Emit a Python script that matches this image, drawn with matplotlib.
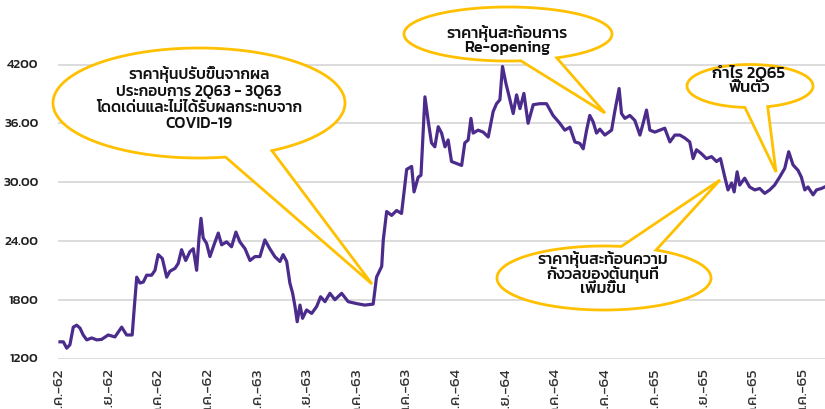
import matplotlib
matplotlib.use("Agg")
import matplotlib.pyplot as plt
from matplotlib.path import Path
from matplotlib.patches import PathPatch
from matplotlib.transforms import Affine2D
import numpy as np

plt.rcParams['font.family'] = ['Kanit', 'DejaVu Sans']

# ---- data (decimal year, price in THB) ----
years = [
    2019.005, 2019.022, 2019.039, 2019.055, 2019.072, 2019.089, 2019.106, 2019.122,
    2019.140, 2019.165, 2019.190, 2019.215, 2019.248, 2019.282, 2019.316, 2019.341,
    2019.369, 2019.380, 2019.392, 2019.408, 2019.425, 2019.442, 2019.467, 2019.484,
    2019.500, 2019.521, 2019.543, 2019.559, 2019.585, 2019.601, 2019.618, 2019.639,
    2019.660, 2019.677, 2019.694, 2019.706, 2019.716, 2019.727, 2019.744, 2019.761,
    2019.778, 2019.803, 2019.820, 2019.845, 2019.870, 2019.892, 2019.912, 2019.938,
    2019.963, 2019.988, 2020.013, 2020.038, 2020.063, 2020.088, 2020.114, 2020.130,
    2020.148, 2020.164, 2020.178, 2020.190, 2020.201, 2020.215, 2020.228, 2020.248,
    2020.274, 2020.299, 2020.319, 2020.341, 2020.366, 2020.391, 2020.425, 2020.458,
    2020.501, 2020.542, 2020.584, 2020.601, 2020.627, 2020.635, 2020.652, 2020.677,
    2020.702, 2020.727, 2020.739, 2020.753, 2020.778, 2020.790, 2020.811, 2020.825,
    2020.845, 2020.861, 2020.878, 2020.895, 2020.912, 2020.929, 2020.946, 2020.962,
    2020.979, 2021.004, 2021.030, 2021.046, 2021.063, 2021.077, 2021.088, 2021.113,
    2021.139, 2021.164, 2021.189, 2021.206, 2021.223, 2021.236, 2021.253, 2021.270,
    2021.290, 2021.307, 2021.324, 2021.344, 2021.365, 2021.391, 2021.424, 2021.458,
    2021.491, 2021.525, 2021.550, 2021.576, 2021.601, 2021.626, 2021.643, 2021.660,
    2021.676, 2021.693, 2021.710, 2021.727, 2021.752, 2021.786, 2021.802, 2021.824,
    2021.836, 2021.853, 2021.878, 2021.903, 2021.929, 2021.945, 2021.962, 2021.979,
    2022.004, 2022.029, 2022.054, 2022.080, 2022.105, 2022.130, 2022.155, 2022.180,
    2022.197, 2022.214, 2022.239, 2022.264, 2022.290, 2022.315, 2022.335, 2022.357,
    2022.373, 2022.391, 2022.404, 2022.419, 2022.432, 2022.457, 2022.482, 2022.508,
    2022.533, 2022.558, 2022.583, 2022.608, 2022.633, 2022.659, 2022.679, 2022.701,
    2022.726, 2022.743, 2022.760, 2022.776, 2022.802, 2022.819, 2022.844, 2022.860,
]
prices = [
    13.7, 13.7, 13.05, 13.4, 15.2, 15.4, 15.1, 14.4,
    13.9, 14.1, 13.9, 13.95, 14.4, 14.2, 15.2, 14.4,
    14.4, 17.3, 20.3, 19.7, 19.8, 20.5, 20.5, 21.0,
    22.6, 22.2, 20.3, 20.9, 21.2, 21.7, 23.1, 22.0,
    22.9, 23.2, 21.0, 24.3, 26.3, 24.3, 23.75, 22.4,
    23.4, 24.8, 23.6, 23.9, 23.4, 24.9, 23.9, 23.2,
    22.0, 22.4, 22.4, 24.1, 23.2, 22.4, 21.9, 22.6,
    21.9, 19.7, 18.65, 17.3, 15.75, 17.45, 16.1, 16.95,
    16.6, 17.3, 18.3, 17.8, 18.65, 18.0, 18.65, 17.8,
    17.6, 17.45, 17.55, 20.3, 21.4, 24.1, 27.0, 26.6,
    27.1, 26.8, 28.85, 31.3, 31.6, 29.0, 30.5, 30.7,
    38.7, 36.3, 34.0, 33.6, 35.65, 35.0, 33.6, 34.3,
    32.1, 31.9, 31.7, 34.0, 34.3, 36.5, 35.0, 35.3,
    35.1, 34.6, 37.2, 38.0, 38.4, 41.8, 40.1, 38.7,
    37.0, 38.9, 37.5, 39.05, 36.0, 37.9, 38.0, 38.0,
    36.8, 36.0, 35.3, 35.6, 34.1, 33.95, 33.4, 35.3,
    36.8, 36.15, 35.0, 35.4, 34.8, 35.3, 37.2, 39.55,
    37.0, 36.5, 36.8, 36.3, 34.8, 36.0, 37.35, 35.3,
    35.1, 35.3, 35.5, 34.1, 34.8, 34.8, 34.5, 34.1,
    32.4, 33.3, 32.9, 32.4, 32.6, 32.1, 32.4, 30.5,
    29.2, 29.9, 29.0, 31.05, 29.7, 30.4, 29.5, 29.2,
    29.35, 28.85, 29.2, 29.7, 30.5, 31.4, 33.1, 31.75,
    31.2, 30.5, 29.2, 29.5, 28.7, 29.2, 29.35, 29.5,
]

tick_years = [2019.0 + 0.25 * i for i in range(16)]
tick_labels = ["ม.ค.-62", "เม.ย.-62", "ก.ค.-62", "ต.ค.-62",
               "ม.ค.-63", "เม.ย.-63", "ก.ค.-63", "ต.ค.-63",
               "ม.ค.-64", "เม.ย.-64", "ก.ค.-64", "ต.ค.-64",
               "ม.ค.-65", "เม.ย.-65", "ก.ค.-65", "ต.ค.-65"]
y_ticks = [12, 18, 24, 30, 36, 42]
y_tick_labels = ["1200", "1800", "24.00", "30.00", "36.00", "4200"]

W, H = 825, 409
fig = plt.figure(figsize=(W / 100, H / 100), dpi=100)
ax = fig.add_axes([58 / W, (H - 358.5) / H, (W - 58) / W, (358.5 - 5.7) / H])

ax.plot(years, prices, color="#4B2C8C", lw=2.3, solid_joinstyle="round", zorder=3)
ax.set_xlim(2018.995, 2022.862)
ax.set_ylim(12, 48)
ax.set_yticks(y_ticks)
ax.set_yticklabels(y_tick_labels)
ax.set_xticks(tick_years)
ax.set_xticklabels(tick_labels, rotation=90, va="top", ha="center")
ax.tick_params(axis="y", length=0, pad=14, labelsize=9.5, labelcolor="#222222")
ax.tick_params(axis="x", length=0, pad=7, labelsize=11, labelcolor="#333333")
for lab in ax.get_yticklabels():
    lab.set_fontweight("medium")
ax.grid(axis="y", color="#d9d9d9", lw=1.3)
ax.set_axisbelow(True)
for s in ax.spines.values():
    s.set_visible(False)

# ---- speech bubbles (figure pixel coordinates, y downward) ----
pix = Affine2D().scale(1 / W, -1 / H).translate(0, 1) + fig.transFigure
GOLD = "#FFC000"


def bubble(cx, cy, rx, ry, base1, base2, tip, lw=2.0):
    a1 = np.arctan2((base1[1] - cy) / ry, (base1[0] - cx) / rx)
    a2 = np.arctan2((base2[1] - cy) / ry, (base2[0] - cx) / rx)
    if a1 < a2:
        a1 += 2 * np.pi
    span = a1 - a2
    if span < np.pi:
        a_start, a_end = a1, a2 + 2 * np.pi
    else:
        a_start, a_end = a2, a1
    t = np.linspace(a_start, a_end, 200)
    pts = np.column_stack([cx + rx * np.cos(t), cy + ry * np.sin(t)])
    pts = np.vstack([pts, [tip], pts[:1]])
    codes = [Path.MOVETO] + [Path.LINETO] * (len(pts) - 2) + [Path.CLOSEPOLY]
    p = PathPatch(Path(pts, codes), facecolor="white", edgecolor=GOLD, lw=lw,
                  transform=pix, zorder=5, joinstyle="miter", clip_on=False)
    fig.add_artist(p)


def label(x, y, s, size, ls):
    fig.text(x, y, s, transform=pix, ha="center", va="center", color="#111111",
             fontsize=size, zorder=6, fontweight="medium", linespacing=ls)


bubble(199, 103, 146, 55, (225, 156), (277, 154), (372, 284))
label(199, 98.5, "ราคาหุ้นปรับขึ้นจากผล\nประกอบการ 2Q63 - 3Q63\nโดดเด่นและไม่ได้รับผลกระทบจาก\nCOVID-19",
      11.2, 1.2)

bubble(508, 34, 104, 27, (520, 59), (557, 58), (605, 113))
label(507, 40, "ราคาหุ้นสะท้อนการ\nRe-opening", 11.5, 0.95)

bubble(604, 278, 107, 32, (621, 247), (658, 249), (720, 180))
label(603, 273.5, "ราคาหุ้นสะท้อนความ\nกังวลของต้นทุนที่\nเพิ่มขึ้น", 11.5, 0.9)

bubble(750, 86, 63, 21.5, (745, 107), (768, 107), (776, 172))
label(749, 80, "กำไร 2Q65\nฟื้นตัว", 12, 0.95)

fig.savefig("out.png", dpi=100)
